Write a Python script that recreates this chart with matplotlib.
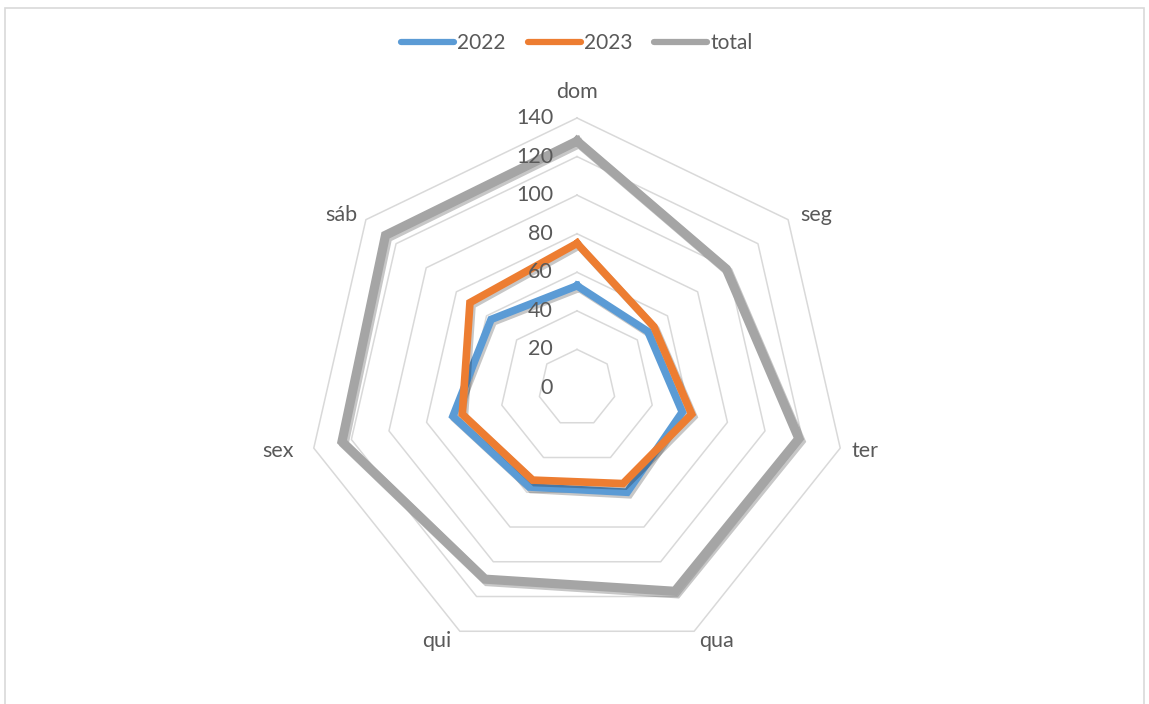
import numpy as np
import matplotlib
matplotlib.use('Agg')
import matplotlib.pyplot as plt
import matplotlib.patheffects as pe
from matplotlib.lines import Line2D
from matplotlib.patches import Rectangle

plt.rcParams['font.family'] = ['Lato', 'DejaVu Sans']

# data
days = ['dom', 'seg', 'ter', 'qua', 'qui', 'sex', 'sáb']
vals_2022 = [53, 47, 56, 60, 57, 66, 57]
vals_2023 = [75, 51, 61, 55, 53, 61, 71]
vals_total = [128, 99, 118, 117, 110, 125, 127]
ticks = [0, 20, 40, 60, 80, 100, 120, 140]

colors = {'2022': '#5B9BD5', '2023': '#ED7D31', 'total': '#A5A5A5'}
text_color = '#595959'
grid_color = '#D9D9D9'

W, H, dpi = 1149, 704, 100
cx, cy = 577, 388          # centre of the radar in pixels
px_per_unit = 270 / 140    # outer ring radius in pixels

# pixel offsets of the category labels from the outer vertices
label_offsets = [(0, 26), (28, 5), (25, -3), (22, -10), (-23, -10), (-36, -3), (-25, 5)]

fig = plt.figure(figsize=(W / dpi, H / dpi), dpi=dpi)
ax = fig.add_axes([0, 0, 1, 1])
ax.set_xlim(-cx / px_per_unit, (W - cx) / px_per_unit)
ax.set_ylim(-(H - cy) / px_per_unit, cy / px_per_unit)
ax.axis('off')

n = len(days)
angles = np.pi / 2 - np.arange(n) * 2 * np.pi / n


def to_xy(values):
    v = np.asarray(values, dtype=float)
    x = v * np.cos(angles)
    y = v * np.sin(angles)
    return np.append(x, x[0]), np.append(y, y[0])


# heptagon grid
for t in ticks[1:]:
    gx, gy = to_xy([t] * n)
    ax.plot(gx, gy, color=grid_color, lw=1.1, zorder=1)
for t in ticks:
    ax.text(-12.4, t, str(t), ha='right', va='center', fontsize=15.5,
            color=text_color, zorder=5)

# category labels
ox, oy = to_xy([ticks[-1]] * n)
for i, d in enumerate(days):
    ax.annotate(d, (ox[i], oy[i]), xytext=label_offsets[i],
                textcoords='offset pixels', ha='center', va='center',
                fontsize=15.5, color=text_color)

shadow = [pe.SimpleLineShadow(offset=(1.5, -1.8), shadow_color='k', alpha=0.22),
          pe.Normal()]

series = [('2022', vals_2022, 5.5), ('2023', vals_2023, 5.5), ('total', vals_total, 6.6)]
for name, vals, lw in series:
    sx, sy = to_xy(vals)
    ax.plot(sx, sy, color=colors[name], lw=lw, solid_joinstyle='miter',
            path_effects=shadow, zorder=3)

# legend
handles = [Line2D([0], [0], color=colors[name], lw=4.5, solid_capstyle='round')
           for name, _, _ in series]
fig.legend(handles, [name for name, _, _ in series], loc='center',
           bbox_to_anchor=(cx / W, 1 - 43 / H), ncol=3, frameon=False,
           fontsize=15, labelcolor=text_color, handlelength=2.55,
           handletextpad=0.15, columnspacing=1.05)

# chart border
fig.patches.append(Rectangle((5 / W, -0.01), 1139 / W, 1.01 - 8 / H,
                             transform=fig.transFigure, fill=False,
                             edgecolor=grid_color, lw=1.2))

fig.savefig('out.png', dpi=dpi, facecolor='white')
